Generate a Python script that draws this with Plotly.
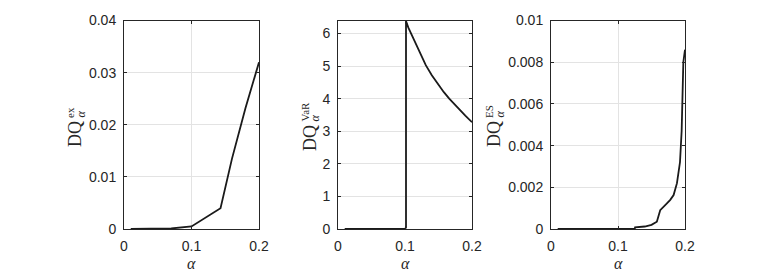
import plotly.graph_objects as go

# ---- data ----
alpha_ex = [0.01, 0.03, 0.05, 0.07, 0.1, 0.125, 0.143, 0.16, 0.18, 0.2]
dq_ex = [0.0, 0.0, 0.00003, 0.0001, 0.0005, 0.0026, 0.004, 0.0135, 0.0232, 0.032]

alpha_var = [0.01, 0.05, 0.1, 0.1015, 0.1015, 0.105, 0.109, 0.115, 0.12, 0.125, 0.131, 0.14,
             0.15, 0.158, 0.166, 0.175, 0.183, 0.19, 0.2]
dq_var = [0.0, 0.0, 0.0, 0.05, 6.38, 6.18, 6.0, 5.72, 5.5, 5.28, 5.03, 4.72,
          4.42, 4.2, 4.0, 3.8, 3.62, 3.48, 3.28]

alpha_es = [0.01, 0.05, 0.1, 0.125, 0.1255, 0.14, 0.15, 0.158, 0.163, 0.168, 0.173, 0.178,
            0.183, 0.188, 0.1925, 0.195, 0.1965, 0.1975, 0.2]
dq_es = [0.0, 0.0, 0.0, 0.0, 0.00008, 0.00012, 0.0002, 0.00035, 0.0009, 0.00105, 0.00123, 0.0014,
         0.00163, 0.0022, 0.0032, 0.0047, 0.0063, 0.008, 0.0086]

x_ticks = [0, 0.1, 0.2]
x_ticktext = ["0", "0.1", "0.2"]
y_ticks_ex = [0, 0.01, 0.02, 0.03, 0.04]
y_ticktext_ex = ["0", "0.01", "0.02", "0.03", "0.04"]
y_ticks_var = [0, 1, 2, 3, 4, 5, 6]
y_ticktext_var = ["0", "1", "2", "3", "4", "5", "6"]
y_ticks_es = [0, 0.002, 0.004, 0.006, 0.008, 0.01]
y_ticktext_es = ["0", "0.002", "0.004", "0.006", "0.008", "0.01"]
sup_labels = ["ex", "VaR", "ES"]

W, H = 760, 273


def px(x):
    return x / W


def py(y):
    return 1 - y / H


fig = go.Figure()

panels = [
    (alpha_ex, dq_ex, [0, 0.04], y_ticks_ex, y_ticktext_ex, (124, 259)),
    (alpha_var, dq_var, [0, 6.4], y_ticks_var, y_ticktext_var, (338, 472)),
    (alpha_es, dq_es, [0, 0.01], y_ticks_es, y_ticktext_es, (551, 685)),
]

axcol = "#262626"
gridcol = "#e3e3e3"
tickfont = dict(family="Liberation Sans, Arial, sans-serif", size=14, color=axcol)

layout = dict(
    template="none",
    width=W, height=H,
    margin=dict(l=0, r=0, t=0, b=0, pad=0),
    paper_bgcolor="white", plot_bgcolor="white",
    showlegend=False,
)
annotations = []
label_x = [75, 310, 494]
label_y = [134, 138, 134]

for i, (xs, ys, yr, yt, ytt, (xl, xr)) in enumerate(panels):
    n = "" if i == 0 else str(i + 1)
    fig.add_trace(go.Scatter(x=xs, y=ys, mode="lines",
                             line=dict(color="#1a1a1a", width=1.8),
                             xaxis="x" + n, yaxis="y" + n, hoverinfo="skip"))
    common = dict(showline=True, linecolor=axcol, linewidth=1, mirror="ticks",
                  ticks="inside", ticklen=3, tickcolor=axcol, tickwidth=1,
                  showgrid=True, gridcolor=gridcol, gridwidth=1,
                  zeroline=False, tickfont=tickfont, fixedrange=True,
                  automargin=False)
    layout["xaxis" + n] = dict(domain=[px(xl), px(xr)], range=[0, 0.2],
                               tickvals=x_ticks, ticktext=x_ticktext,
                               anchor="y" + n, ticklabelstandoff=4, **common)
    layout["yaxis" + n] = dict(domain=[py(229), py(20.5)], range=yr,
                               tickvals=yt, ticktext=ytt,
                               anchor="x" + n, ticklabelstandoff=4, **common)
    # x-axis label
    annotations.append(dict(text="<i>α</i>", x=px((xl + xr) / 2), y=py(263),
                            xref="paper", yref="paper", showarrow=False,
                            xanchor="center", yanchor="middle",
                            font=dict(family="Liberation Serif, serif", size=16, color=axcol)))
    # y-axis label: DQ with stacked sup / sub
    lx, ly = label_x[i], label_y[i]
    annotations.append(dict(text="DQ", x=px(lx), y=py(ly), textangle=-90,
                            xref="paper", yref="paper", showarrow=False,
                            xanchor="center", yanchor="middle",
                            font=dict(family="Liberation Serif, serif", size=18, color=axcol)))
    annotations.append(dict(text=sup_labels[i], x=px(lx - 5.5), y=py(ly - 14), textangle=-90,
                            xref="paper", yref="paper", showarrow=False,
                            xanchor="center", yanchor="bottom",
                            font=dict(family="Liberation Serif, serif", size=11, color=axcol)))
    annotations.append(dict(text="<i>α</i>", x=px(lx + 5), y=py(ly - 14), textangle=-90,
                            xref="paper", yref="paper", showarrow=False,
                            xanchor="center", yanchor="bottom",
                            font=dict(family="Liberation Serif, serif", size=12, color=axcol)))

layout["annotations"] = annotations
fig.update_layout(**layout)
fig.write_html("out.html", config={"displayModeBar": False},
               post_script="document.body.style.margin='0';")
